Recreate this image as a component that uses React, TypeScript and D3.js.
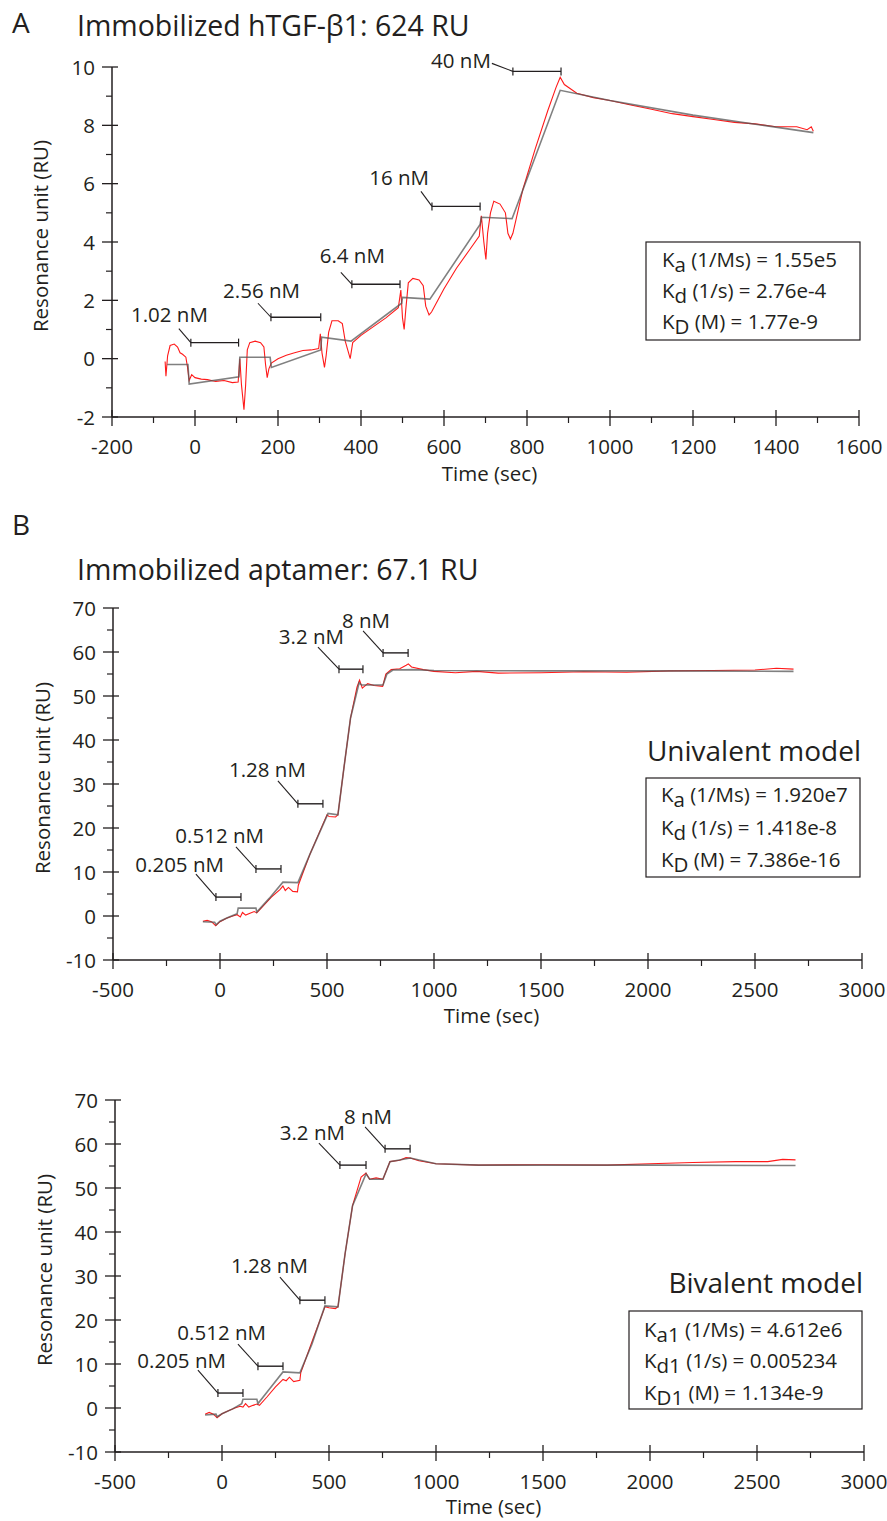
import * as d3 from 'd3'
import { useEffect } from 'react'

// ---- data ----
// panel A: hTGF-b1 surface, measured (red) and fitted (grey) sensorgram, [time s, RU]
const redA = [[-72,-0.1],[-70,-0.6],[-66,0.1],[-60,0.45],[-50,0.5],[-42,0.4],[-36,0.2],[-30,0.15],[-22,0.05],[-18,-0.3],[-14,-0.75],[-8,-0.55],[0,-0.65],[15,-0.7],[30,-0.72],[50,-0.78],[70,-0.75],[90,-0.82],[104,-0.8],[108,0.0],[112,-0.9],[118,-1.75],[122,-0.9],[126,0.3],[132,0.55],[145,0.6],[158,0.55],[166,0.4],[170,-0.2],[174,-0.65],[178,-0.35],[184,-0.15],[200,0.0],[220,0.12],[240,0.2],[260,0.28],[280,0.3],[298,0.35],[302,0.85],[306,0.2],[312,-0.3],[316,0.1],[322,0.9],[330,1.3],[345,1.3],[355,1.2],[362,0.6],[368,0.3],[374,0.0],[380,0.55],[400,0.8],[430,1.1],[460,1.4],[490,1.75],[496,2.35],[500,1.4],[504,1.0],[508,1.7],[514,2.6],[525,2.75],[540,2.7],[550,2.5],[556,1.8],[564,1.5],[570,1.6],[600,2.4],[630,3.1],[660,3.7],[685,4.2],[690,4.9],[696,4.0],[701,3.4],[705,4.3],[712,5.0],[720,5.4],[735,5.3],[748,5.0],[754,4.3],[760,4.1],[766,4.3],[790,5.8],[820,7.2],[850,8.5],[870,9.3],[880,9.65],[890,9.4],[920,9.1],[960,8.95],[1000,8.85],[1050,8.7],[1100,8.55],[1150,8.4],[1200,8.3],[1250,8.2],[1300,8.1],[1350,8.05],[1400,7.95],[1450,7.95],[1475,7.85],[1485,7.95],[1490,7.8]]
const fitA = [[-67,-0.2],[-17,-0.2],[-14,-0.87],[106,-0.62],[108,0.05],[181,0.05],[184,-0.3],[303,0.3],[305,0.74],[376,0.6],[498,1.9],[500,2.1],[566,2.04],[687,4.6],[690,4.85],[764,4.8],[880,9.2],[1000,8.85],[1200,8.35],[1490,7.75]]
const concA = ['1.02 nM','2.56 nM','6.4 nM','16 nM','40 nM']
const injA = [[-10,105,0.55],[183,303,1.42],[378,494,2.55],[571,687,5.22],[766,882,9.85]]
const constA = [['K','a',' (1/Ms) = 1.55e5'],['K','d',' (1/s) = 2.76e-4'],['K','D',' (M) = 1.77e-9']]

// panel B, univalent fit
const redB1 = [[-80,-1.2],[-60,-1.0],[-40,-1.3],[-20,-2.2],[0,-1.3],[30,-0.5],[60,0.0],[80,0.3],[95,-0.2],[105,0.8],[120,0.2],[140,0.6],[160,1.0],[172,0.7],[200,2.2],[240,4.3],[280,6.0],[294,6.8],[305,5.8],[320,6.5],[340,5.6],[362,5.5],[366,7.0],[420,14],[500,23],[510,22.6],[540,22.5],[551,23],[580,34],[610,45],[640,52],[652,53.6],[665,51.8],[690,52.8],[720,52.4],[760,52.2],[775,55],[800,56],[840,56.2],[870,57.0],[880,57.3],[895,56.6],[950,56],[1000,55.6],[1100,55.3],[1200,55.6],[1300,55.2],[1500,55.3],[1700,55.5],[1900,55.4],[2100,55.7],[2300,55.8],[2500,55.9],[2600,56.3],[2680,56.1]]
const fitB1 = [[-80,-1.3],[-25,-1.4],[-18,-2.0],[0,-1.2],[40,-0.3],[80,0.5],[85,1.8],[168,1.8],[172,0.9],[230,4.0],[294,7.7],[364,7.6],[420,14],[505,23.3],[551,23.0],[580,34],[610,45],[650,53],[662,52.5],[762,52.5],[780,55],[808,55.9],[900,56],[1000,55.8],[1500,55.7],[2000,55.7],[2680,55.6]]
const concB = ['0.205 nM','0.512 nM','1.28 nM','3.2 nM','8 nM']
const injB1 = [[-19,98,4.3],[168,285,10.7],[364,481,25.5],[556,668,56.1],[762,879,59.8]]
const constB1 = [['K','a',' (1/Ms) = 1.920e7'],['K','d',' (1/s) = 1.418e-8'],['K','D',' (M) = 7.386e-16']]

// panel B, bivalent fit
const redB2 = [[-79,-1.4],[-60,-1.0],[-40,-1.4],[-23,-2.2],[0,-1.3],[30,-0.6],[60,0.0],[85,0.4],[98,0.2],[110,1.0],[125,0.2],[145,0.6],[163,0.9],[175,0.6],[210,2.5],[250,4.8],[285,6.5],[300,6.2],[315,7.0],[335,6.0],[364,6.3],[368,8.0],[420,15],[481,23],[500,22.8],[530,22.6],[542,23],[575,35],[610,46],[650,52.5],[673,53.4],[690,52.0],[720,52.3],[752,52.0],[785,56],[830,56.3],[860,56.9],[880,56.8],[920,56.2],[1000,55.5],[1200,55.2],[1500,55.3],[1800,55.2],[2000,55.5],[2200,55.8],[2400,56.0],[2550,56.0],[2620,56.5],[2680,56.4]]
const fitB2 = [[-79,-1.6],[-28,-1.4],[-23,-2.0],[0,-1.3],[50,-0.2],[92,1.0],[98,2.0],[163,2.0],[168,1.0],[220,4.2],[285,8.2],[364,8.0],[420,14.5],[481,23.2],[542,23.0],[575,35],[610,46],[673,53.2],[690,52.0],[752,52.0],[785,56],[880,56.8],[1000,55.5],[1200,55.2],[2000,55.2],[2680,55.1]]
const injB2 = [[-19,98,3.4],[168,285,9.5],[364,481,24.5],[551,673,55.2],[762,879,58.9]]
const constB2 = [['K','a1',' (1/Ms) = 4.612e6'],['K','d1',' (1/s) = 0.005234'],['K','D1',' (M) = 1.134e-9']]

const xTicksA = [-200,0,200,400,600,800,1000,1200,1400,1600]
const yTicksA = [-2,0,2,4,6,8,10]
const xTicksB = [-500,0,500,1000,1500,2000,2500,3000]
const yTicksB = [-10,0,10,20,30,40,50,60,70]

// ---- layout (pixels) ----
const FONT = "'Open Sans', sans-serif"
const INK = '#231f20'
const FS = 20.5
// label placement relative to the start of each injection bar: [leader dx, leader dy, label end dx, label baseline dy]
const labA = [[-12,-14,17,-21],[-13,-14,29,-19],[-11,-12,33,-21],[-11,-15,-3,-21],[-21,-8,-22,-3]]
const labB = [[-20,-23,8,-25],[-20,-22,8,-26],[-20,-23,8,-27],[-21,-22,5,-25],[-20,-22,7,-25]]

function Panel(props) {
    const { x, y, xTicks, yTicks, xMinor, yMinor, red, fit, inj, conc, lab, consts, box, xTitleY, yTitleX } = props
    const line = d3.line().x(d => x(d[0])).y(d => y(d[1]))
    const x0 = x.range()[0], x1 = x.range()[1]
    const yb = y.range()[0], yt = y.range()[1]
    return (
        <g fontFamily={FONT} fill={INK}>
            {/* axes */}
            <line x1={x0} x2={x1} y1={yb} y2={yb} stroke={INK} strokeWidth={1.5} />
            <line x1={x0} x2={x0} y1={yb} y2={yt} stroke={INK} strokeWidth={1.5} />
            {xTicks.map(t => (
                <g key={'xt'+t}>
                    <line x1={x(t)} x2={x(t)} y1={yb-7} y2={yb+9} stroke={INK} strokeWidth={1.3} />
                    <text x={x(t)} y={yb+37} textAnchor="middle" fontSize={FS}>{t}</text>
                </g>
            ))}
            {xMinor.map(t => <line key={'xm'+t} x1={x(t)} x2={x(t)} y1={yb} y2={yb+6} stroke={INK} strokeWidth={1.2} />)}
            {yTicks.map(t => (
                <g key={'yt'+t}>
                    <line x1={x0-10} x2={x0+6} y1={y(t)} y2={y(t)} stroke={INK} strokeWidth={1.3} />
                    <text x={x0-17} y={y(t)+7.5} textAnchor="end" fontSize={FS}>{t}</text>
                </g>
            ))}
            {yMinor.map(t => <line key={'ym'+t} x1={x0-6} x2={x0} y1={y(t)} y2={y(t)} stroke={INK} strokeWidth={1.2} />)}
            <text x={(x0+x1)/2+4} y={xTitleY} textAnchor="middle" fontSize={FS}>Time (sec)</text>
            <text transform={`translate(${yTitleX},${(yb+yt)/2-6}) rotate(-90)`} textAnchor="middle" fontSize={FS}>Resonance unit (RU)</text>

            {/* sensorgrams */}
            <path d={line(red)} fill="none" stroke="#ff1a1a" strokeWidth={1.1} />
            <path d={line(fit)} fill="none" stroke="#555" strokeOpacity={0.75} strokeWidth={1.6} />

            {/* injection bars */}
            {inj.map((d, i) => {
                const bx = x(d[0]), bx2 = x(d[1]), by = y(d[2])
                const o = lab[i]
                return (
                    <g key={'inj'+i}>
                        <line x1={bx} x2={bx2} y1={by} y2={by} stroke={INK} strokeWidth={1.4} />
                        <line x1={bx} x2={bx} y1={by-4} y2={by+4} stroke={INK} strokeWidth={1.2} />
                        <line x1={bx2} x2={bx2} y1={by-4} y2={by+4} stroke={INK} strokeWidth={1.2} />
                        <line x1={bx+o[0]} y1={by+o[1]} x2={bx} y2={by} stroke={INK} strokeWidth={1.1} />
                        <text x={bx+o[2]} y={by+o[3]} textAnchor="end" fontSize={FS}>{conc[i]}</text>
                    </g>
                )
            })}

            {/* rate constants */}
            <rect x={box.x} y={box.y} width={box.w} height={box.h} fill="none" stroke={INK} strokeWidth={1.2} />
            {consts.map((c, i) => (
                <text key={'c'+i} x={box.tx} y={box.b[i]} fontSize={box.fs}>
                    {c[0]}<tspan dy={5}>{c[1]}</tspan><tspan dy={-5}>{c[2]}</tspan>
                </text>
            ))}
            {box.model && <text x={x1-1} y={box.my} textAnchor="end" fontSize={28}>{box.model}</text>}
        </g>
    )
}

function App() {
    useEffect(() => { document.body.style.margin = '0' }, [])

    const xA = d3.scaleLinear().domain([-200,1600]).range([112,859])
    const yA = d3.scaleLinear().domain([-2,10]).range([417,67])
    const xB1 = d3.scaleLinear().domain([-500,3000]).range([113,862])
    const yB1 = d3.scaleLinear().domain([-10,70]).range([960,608])
    const xB2 = d3.scaleLinear().domain([-500,3000]).range([115,864])
    const yB2 = d3.scaleLinear().domain([-10,70]).range([1452,1100])

    const xMinorA = d3.range(-100,1600,200)
    const yMinorA = d3.range(-1,10,2)
    const xMinorB = d3.range(-250,3000,500)
    const yMinorB = d3.range(-5,70,10)

    return (
        <svg width={887} height={1521} style={{ display: 'block', background: '#fff' }}>
            <text x={12} y={33} fontFamily={FONT} fontSize={28} fill={INK}>A</text>
            <text x={77} y={36} fontFamily={FONT} fontSize={28.5} fill={INK}>Immobilized hTGF-β1: 624 RU</text>
            <text x={12} y={535} fontFamily={FONT} fontSize={28} fill={INK}>B</text>
            <text x={77} y={580} fontFamily={FONT} fontSize={28.5} fill={INK}>Immobilized aptamer: 67.1 RU</text>

            <Panel x={xA} y={yA} xTicks={xTicksA} yTicks={yTicksA} xMinor={xMinorA} yMinor={yMinorA}
                red={redA} fit={fitA} inj={injA} conc={concA} lab={labA} consts={constA}
                xTitleY={481} yTitleX={48}
                box={{ x: 646, y: 242, w: 214, h: 98, tx: 662, b: [267, 298, 329], fs: 20.5 }} />
            <Panel x={xB1} y={yB1} xTicks={xTicksB} yTicks={yTicksB} xMinor={xMinorB} yMinor={yMinorB}
                red={redB1} fit={fitB1} inj={injB1} conc={concB} lab={labB} consts={constB1}
                xTitleY={1023} yTitleX={50}
                box={{ x: 646, y: 778, w: 214, h: 99, tx: 661, b: [802, 835, 867], fs: 20.5, model: 'Univalent model', my: 761 }} />
            <Panel x={xB2} y={yB2} xTicks={xTicksB} yTicks={yTicksB} xMinor={xMinorB} yMinor={yMinorB}
                red={redB2} fit={fitB2} inj={injB2} conc={concB} lab={labB} consts={constB2}
                xTitleY={1514} yTitleX={52}
                box={{ x: 629, y: 1311, w: 233, h: 98, tx: 644, b: [1337, 1368, 1400], fs: 20.5, model: 'Bivalent model', my: 1293 }} />
        </svg>
    )
}

export default App
